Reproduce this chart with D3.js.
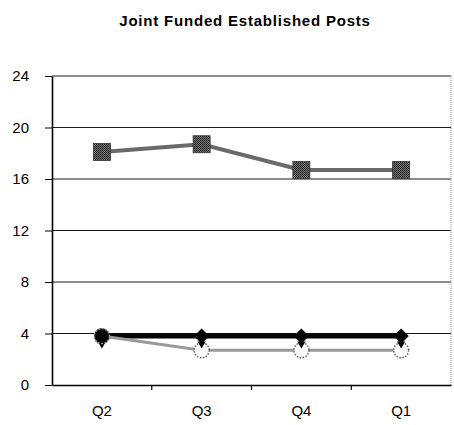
<!DOCTYPE html>
<html>
<head>
<meta charset="utf-8">
<script src="https://cdn.jsdelivr.net/npm/d3@7/dist/d3.min.js"></script>
<style>
  html, body { margin: 0; padding: 0; background: #fff; }
  svg { display: block; font-family: "Liberation Sans", Arial, sans-serif; }
</style>
</head>
<body>
<svg id="chart" width="454" height="425"></svg>
<script>
// Quarterly counts of joint funded established posts
const categories = ["Q2", "Q3", "Q4", "Q1"];
const squareSeries = [18.1, 18.7, 16.7, 16.7];
const diamondSeries = [3.8, 3.8, 3.8, 3.8];
const triangleSeries = [3.2, 3.2, 3.2, 3.2];
const circleSeries = [3.8, 2.7, 2.7, 2.7];
const yTicks = [0, 4, 8, 12, 16, 20, 24];
const titleText = "Joint Funded Established Posts";

const svg = d3.select("#chart");
const plot = { left: 52, right: 451, top: 76, bottom: 385 };

const x = d3.scaleBand().domain(categories).range([plot.left, plot.right]);
const y = d3.scaleLinear().domain([0, 24]).range([plot.bottom, plot.top]);
const cx = c => x(c) + x.bandwidth() / 2;

// speckled fill for the square markers
const defs = svg.append("defs");
const pat = defs.append("pattern").attr("id", "speckle")
  .attr("width", 2).attr("height", 2).attr("patternUnits", "userSpaceOnUse");
pat.append("rect").attr("width", 2).attr("height", 2).attr("fill", "#7a7a7a");
pat.append("rect").attr("width", 1).attr("height", 1).attr("fill", "#1a1a1a");
pat.append("rect").attr("x", 1).attr("y", 1).attr("width", 1).attr("height", 1).attr("fill", "#2a2a2a");

// title
svg.append("text")
  .attr("x", 245).attr("y", 26)
  .attr("text-anchor", "middle")
  .attr("font-size", 15).attr("font-weight", "bold")
  .attr("letter-spacing", 0.8)
  .attr("fill", "#000")
  .text(titleText);

// horizontal gridlines
svg.append("g").selectAll("line").data(yTicks.filter(v => v > 0)).join("line")
  .attr("x1", plot.left).attr("x2", plot.right)
  .attr("y1", d => y(d)).attr("y2", d => y(d))
  .attr("stroke", "#1a1a1a").attr("stroke-width", 1);

// right border
svg.append("line")
  .attr("x1", plot.right).attr("x2", plot.right)
  .attr("y1", plot.top).attr("y2", plot.bottom)
  .attr("stroke", "#999").attr("stroke-width", 1).attr("stroke-dasharray", "1,1");

// y axis
const yAxis = svg.append("g")
  .attr("transform", `translate(${plot.left},0)`)
  .call(d3.axisLeft(y).tickValues(yTicks).tickSize(7).tickSizeOuter(0).tickPadding(16));
yAxis.select(".domain").attr("stroke", "#000").attr("stroke-width", 1.6);
yAxis.selectAll(".tick line").attr("stroke", "#000");
yAxis.selectAll(".tick text").attr("font-size", 15).attr("fill", "#000")
  .attr("font-family", "Liberation Sans, Arial, sans-serif");

// x axis: labels centred on bands, ticks on band boundaries
const xAxis = svg.append("g")
  .attr("transform", `translate(0,${plot.bottom})`)
  .call(d3.axisBottom(x).tickSize(0).tickPadding(20));
xAxis.select(".domain").attr("stroke", "#000").attr("stroke-width", 1.6);
xAxis.selectAll(".tick text").attr("font-size", 15).attr("fill", "#000")
  .attr("font-family", "Liberation Sans, Arial, sans-serif");
svg.append("g").selectAll("line").data(categories.slice(1)).join("line")
  .attr("x1", d => x(d)).attr("x2", d => x(d))
  .attr("y1", plot.bottom).attr("y2", plot.bottom + 5)
  .attr("stroke", "#000").attr("stroke-width", 1.2);

const line = d3.line().x((d, i) => cx(categories[i])).y(d => y(d));

// square series
svg.append("path").datum(squareSeries)
  .attr("d", line).attr("fill", "none")
  .attr("stroke", "#6a6a6a").attr("stroke-width", 4);
svg.append("g").selectAll("rect").data(squareSeries).join("rect")
  .attr("x", (d, i) => cx(categories[i]) - 8.5)
  .attr("y", d => y(d) - 8.5)
  .attr("width", 17).attr("height", 17)
  .attr("fill", "url(#speckle)").attr("stroke", "#333").attr("stroke-width", 0.8);

// diamond series
svg.append("path").datum(diamondSeries)
  .attr("d", line).attr("fill", "none")
  .attr("stroke", "#050505").attr("stroke-width", 5);
svg.append("g").selectAll("path").data(diamondSeries).join("path")
  .attr("transform", (d, i) => `translate(${cx(categories[i])},${y(d)})`)
  .attr("d", d3.symbol(d3.symbolDiamond2, 150))
  .attr("fill", "#050505");

// circle series
svg.append("path").datum(circleSeries)
  .attr("d", line).attr("fill", "none")
  .attr("stroke", "#9a9a9a").attr("stroke-width", 3);
svg.append("g").selectAll("circle").data(circleSeries).join("circle")
  .attr("cx", (d, i) => cx(categories[i]))
  .attr("cy", d => y(d))
  .attr("r", 7.5)
  .attr("fill", "#fff")
  .attr("stroke", "#555").attr("stroke-width", 1.4).attr("stroke-dasharray", "1.5,1.5");

// triangle markers
svg.append("g").selectAll("path").data(triangleSeries).join("path")
  .attr("transform", (d, i) => `translate(${cx(categories[i])},${y(d)}) rotate(180)`)
  .attr("d", d3.symbol(d3.symbolTriangle, 30))
  .attr("fill", "#050505");

// first circle point sits on the diamond line and is drawn solid
svg.append("circle")
  .datum(circleSeries[0])
  .attr("cx", cx(categories[0]))
  .attr("cy", d => y(d))
  .attr("r", 7.5)
  .attr("fill", "#050505")
  .attr("stroke", "#999").attr("stroke-width", 1.3).attr("stroke-dasharray", "2,1.5");
</script>
</body>
</html>
